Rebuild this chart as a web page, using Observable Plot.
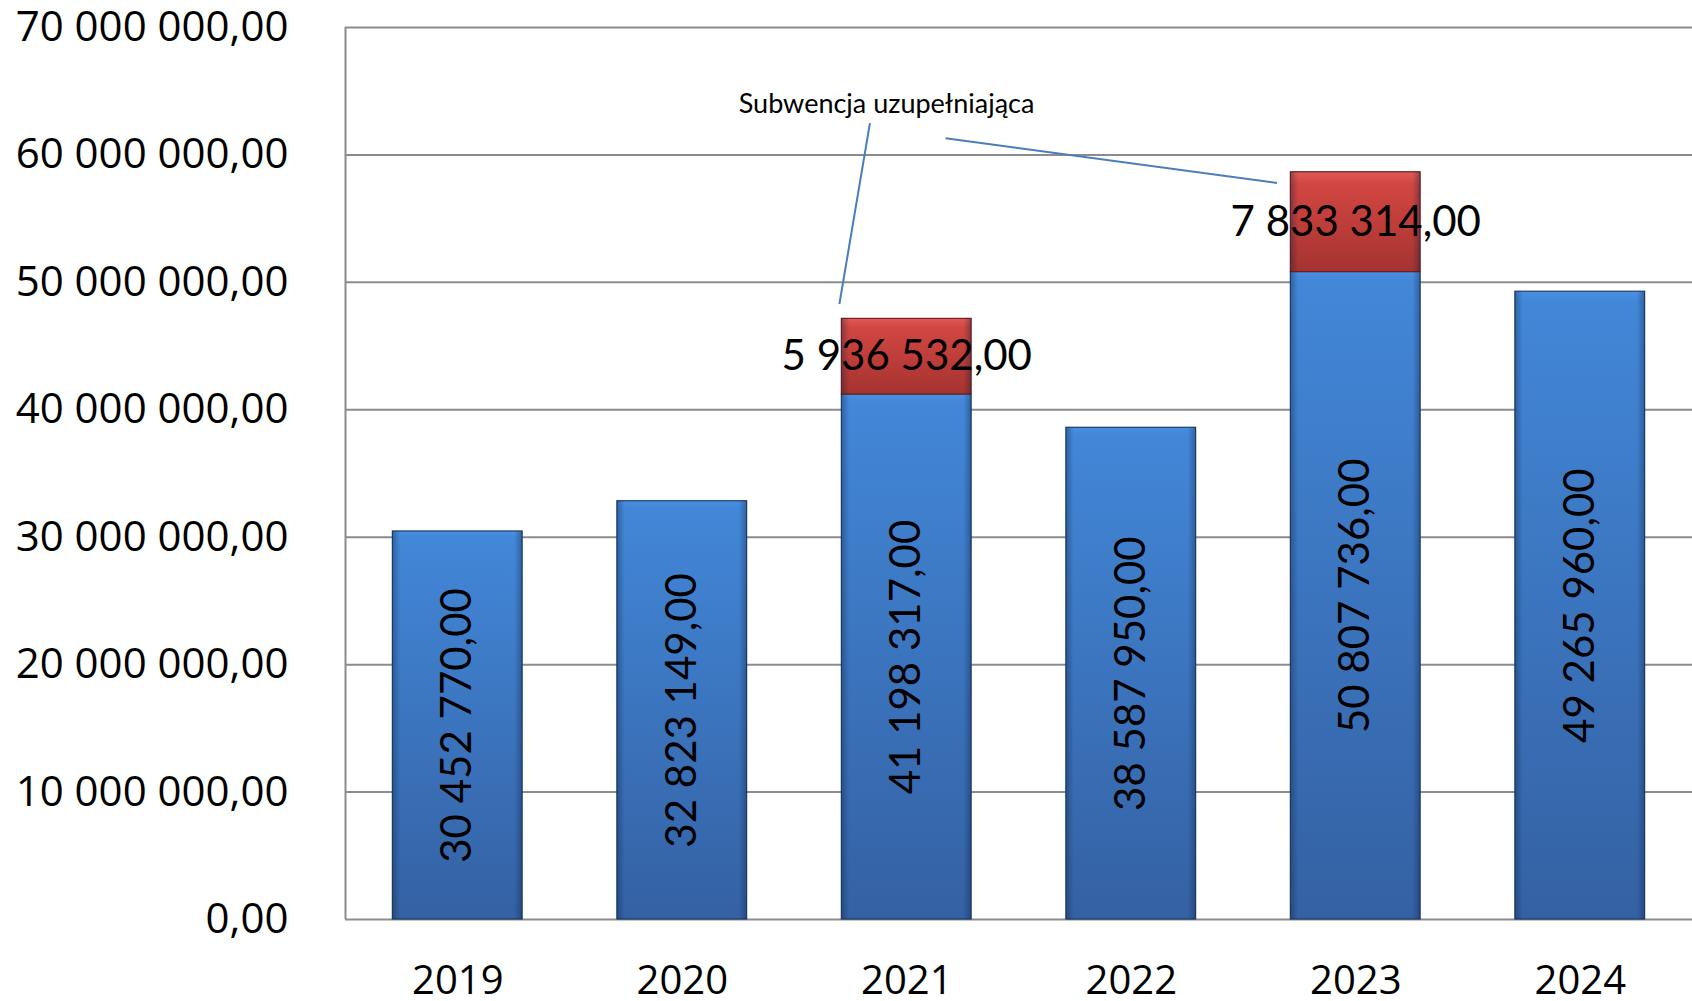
<!DOCTYPE html>
<html>
<head>
<meta charset="utf-8">
<script src="https://cdn.jsdelivr.net/npm/d3@7"></script>
<script src="https://cdn.jsdelivr.net/npm/@observablehq/plot@0.6"></script>
<style>
  html, body { margin: 0; padding: 0; background: #fff; }
</style>
</head>
<body>
<div id="chart"></div>
<script>
// ---- data ----
const years = ["2019", "2020", "2021", "2022", "2023", "2024"];
const baseValues = [30452770, 32823149, 41198317, 38587950, 50807736, 49265960];
const supplementValues = [0, 0, 5936532, 0, 7833314, 0];
const yTicks = [0, 10e6, 20e6, 30e6, 40e6, 50e6, 60e6, 70e6];
const annotationText = "Subwencja uzupełniająca";
// annotation anchor & leader lines in data space (x = category index, y = value)
const annotationAnchor = [{x: 1.91, y: 64.0e6}];
const leaderLines = [
  {x1: 1.836, y1: 62.5e6, x2: 1.70, y2: 48.3e6},
  {x1: 2.173, y1: 61.3e6, x2: 3.649, y2: 57.8e6}
];

const locale = d3.formatLocale({decimal: ",", thousands: " ", grouping: [3], currency: ["", ""]});
const fmt = locale.format(",.2f");

const halfBar = 0.289;
const rows = years.map((year, i) => ({
  i, year, base: baseValues[i], supp: supplementValues[i], total: baseValues[i] + supplementValues[i]
}));
const suppRows = rows.filter(d => d.supp > 0);

const gridColor = "#8c8c8c";

const svg = Plot.plot({
  width: 1692,
  height: 1001,
  marginLeft: 345,
  marginRight: 0,
  marginTop: 27,
  marginBottom: 82,
  style: {background: "white", fontFamily: "'Open Sans', sans-serif", overflow: "visible", color: "#000"},
  x: {domain: [-0.5, 5.5], axis: null},
  y: {domain: [0, 70e6], axis: null},
  marks: [
    Plot.gridY(yTicks, {stroke: gridColor, strokeOpacity: 1, strokeWidth: 2}),
    Plot.ruleX([-0.5], {stroke: gridColor, strokeWidth: 2}),
    Plot.axisY(yTicks, {
      tickSize: 0, tickPadding: 57, tickFormat: fmt, fontSize: 42,
      fontFamily: "'Open Sans', sans-serif", fill: "#000", label: null
    }),
    Plot.axisX(d3.range(years.length), {
      tickSize: 0, tickPadding: 46, tickFormat: i => years[i], fontSize: 40,
      fontFamily: "'Open Sans', sans-serif", fill: "#000", label: null
    }),
    // blue base bars
    Plot.rectY(rows, {
      x1: d => d.i - halfBar, x2: d => d.i + halfBar, y1: 0, y2: "base",
      fill: "url(#blueGrad)", stroke: "#1f3d6b", strokeWidth: 1.2
    }),
    Plot.rectY(rows, {
      x1: d => d.i - halfBar, x2: d => d.i + halfBar, y1: 0, y2: "base",
      fill: "url(#edgeShade)", stroke: "none"
    }),
    // red supplementary bars
    Plot.rectY(suppRows, {
      x1: d => d.i - halfBar, x2: d => d.i + halfBar, y1: "base", y2: "total",
      fill: "url(#redGrad)", stroke: "#6e1f1f", strokeWidth: 1.2
    }),
    Plot.rectY(suppRows, {
      x1: d => d.i - halfBar, x2: d => d.i + halfBar, y1: "base", y2: "total",
      fill: "url(#edgeShade)", stroke: "none"
    }),
    // leader lines
    Plot.link(leaderLines, {x1: "x1", y1: "y1", x2: "x2", y2: "y2", stroke: "#4a7ebb", strokeWidth: 2}),
    // annotation text
    Plot.text(annotationAnchor, {
      x: "x", y: "y", text: () => annotationText, fontSize: 27,
      fontFamily: "Lato, sans-serif", fill: "#000", textAnchor: "middle", lineAnchor: "middle"
    }),
    // value labels in blue bars (rotated)
    Plot.text(rows, {
      x: "i", y: d => d.base / 2, text: d => fmt(d.base), rotate: -90,
      fontSize: 42, fontFamily: "Lato, sans-serif", fill: "#000",
      textAnchor: "middle", lineAnchor: "middle"
    }),
    // value labels in red segments
    Plot.text(suppRows, {
      x: "i", y: d => d.base + d.supp / 2, text: d => fmt(d.supp),
      fontSize: 42, fontFamily: "Lato, sans-serif", fill: "#000",
      textAnchor: "middle", lineAnchor: "middle"
    })
  ]
});

// gradient definitions for the bar fills
const defs = d3.select(svg).insert("defs", ":first-child");
const blue = defs.append("linearGradient").attr("id", "blueGrad")
  .attr("x1", 0).attr("y1", 0).attr("x2", 0).attr("y2", 1);
blue.append("stop").attr("offset", "0%").attr("stop-color", "#4a8fe0");
blue.append("stop").attr("offset", "1.5%").attr("stop-color", "#4287d8");
blue.append("stop").attr("offset", "100%").attr("stop-color", "#3461a3");
const red = defs.append("linearGradient").attr("id", "redGrad")
  .attr("x1", 0).attr("y1", 0).attr("x2", 0).attr("y2", 1);
red.append("stop").attr("offset", "0%").attr("stop-color", "#e05a56");
red.append("stop").attr("offset", "12%").attr("stop-color", "#d24642");
red.append("stop").attr("offset", "100%").attr("stop-color", "#a53330");
const edge = defs.append("linearGradient").attr("id", "edgeShade")
  .attr("x1", 0).attr("y1", 0).attr("x2", 1).attr("y2", 0);
edge.append("stop").attr("offset", "0%").attr("stop-color", "#0a1e3c").attr("stop-opacity", 0.35);
edge.append("stop").attr("offset", "6%").attr("stop-color", "#0a1e3c").attr("stop-opacity", 0.0);
edge.append("stop").attr("offset", "94%").attr("stop-color", "#0a1e3c").attr("stop-opacity", 0.0);
edge.append("stop").attr("offset", "100%").attr("stop-color", "#0a1e3c").attr("stop-opacity", 0.35);

document.getElementById("chart").appendChild(svg);
</script>
</body>
</html>
